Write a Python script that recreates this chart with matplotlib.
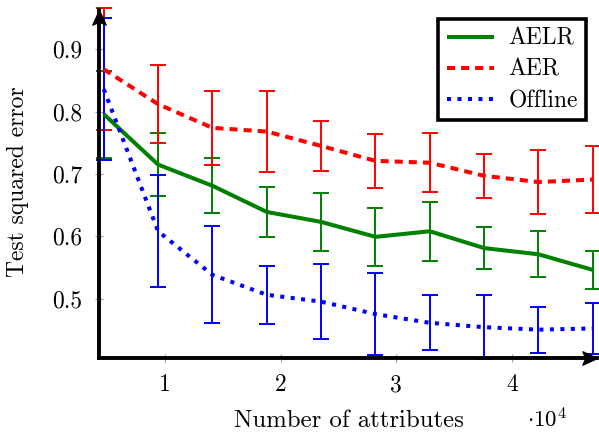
import matplotlib
matplotlib.use("Agg")
import matplotlib.pyplot as plt

# Data
attributes = [4700, 9400, 14100, 18800, 23500, 28200, 32900, 37600, 42300, 47000]

aelr_mean = [0.796, 0.715, 0.681, 0.639, 0.623, 0.599, 0.608, 0.581, 0.571, 0.546]
aelr_err = [0.070, 0.050, 0.044, 0.040, 0.047, 0.047, 0.047, 0.034, 0.037, 0.030]

aer_mean = [0.868, 0.812, 0.774, 0.768, 0.745, 0.721, 0.718, 0.697, 0.687, 0.691]
aer_err = [0.098, 0.063, 0.059, 0.065, 0.040, 0.043, 0.047, 0.035, 0.051, 0.054]

offline_mean = [0.836, 0.608, 0.538, 0.506, 0.495, 0.475, 0.461, 0.454, 0.450, 0.452]
offline_err = [0.114, 0.090, 0.078, 0.047, 0.060, 0.066, 0.044, 0.051, 0.037, 0.041]

x_ticks = [10000, 20000, 30000, 40000]
x_tick_labels = ["1", "2", "3", "4"]
y_ticks = [0.5, 0.6, 0.7, 0.8, 0.9]
y_tick_labels = ["0.5", "0.6", "0.7", "0.8", "0.9"]

plt.rcParams["font.family"] = ["cmr10", "DejaVu Serif"]
plt.rcParams["mathtext.fontset"] = "cm"
plt.rcParams["axes.formatter.use_mathtext"] = True


def create_visualization():
    fig = plt.figure(figsize=(5.99, 4.34), dpi=100)
    ax = fig.add_axes([0.1653, 0.1758, 0.8309, 0.8009])

    series = [
        ("AELR", aelr_mean, aelr_err, "#008000", dict(linestyle="-")),
        ("AER", aer_mean, aer_err, "#ff0000", dict(dashes=(2.0, 1.5))),
        ("Offline", offline_mean, offline_err, "#0000ff", dict(dashes=(1.0, 1.6))),
    ]

    for label, mean, err, color, style in series:
        ax.errorbar(attributes, mean, yerr=err, fmt="none", ecolor=color,
                    elinewidth=1.4, capsize=6, capthick=1.4, clip_on=False, zorder=2)
        ax.plot(attributes, mean, color=color, linewidth=2.9, label=label,
                solid_capstyle="butt", dash_capstyle="butt", zorder=3, **style)

    ax.set_xlim(4290, 47340)
    ax.set_ylim(0.405, 0.963)
    ax.set_xticks(x_ticks, x_tick_labels)
    ax.set_yticks(y_ticks, y_tick_labels)
    ax.tick_params(direction="inout", length=6, width=0.8, color="0.6",
                   labelsize=17, pad=9)

    for side in ["top", "right"]:
        ax.spines[side].set_visible(False)
    for side in ["left", "bottom"]:
        ax.spines[side].set_linewidth(2.8)
        ax.spines[side].set_color("black")
        ax.spines[side].set_capstyle("projecting")
        ax.spines[side].set_zorder(4)

    # stealth style arrow heads at the axis ends
    right_arrow = [(0, 0), (-1.75, 0.8), (-1.4, 0), (-1.75, -0.8), (0, 0)]
    up_arrow = [(0, 0), (0.8, -1.75), (0, -1.4), (-0.8, -1.75), (0, 0)]
    ax.plot([1], [0], marker=right_arrow, markersize=21, color="black",
            transform=ax.transAxes, clip_on=False, zorder=5)
    ax.plot([0], [1], marker=up_arrow, markersize=21, color="black",
            transform=ax.transAxes, clip_on=False, zorder=5)

    leg = ax.legend(loc="upper right", bbox_to_anchor=(0.978, 0.973),
                    borderaxespad=0, fontsize=17, handlelength=2.0,
                    labelspacing=0.38, handletextpad=0.6, borderpad=0.35,
                    fancybox=False, framealpha=1, edgecolor="black")
    leg.get_frame().set_linewidth(2.6)

    fig.text(349 / 599, 1 - 427 / 434, "Number of attributes", fontsize=17.8,
             ha="center", va="baseline")
    fig.text(17.6 / 599, 1 - 182 / 434, "Test squared error", fontsize=17,
             ha="center", va="center", rotation=90)
    fig.text(527 / 599, 1 - 428 / 434, r"$\cdot 10^{4}$", fontsize=16.5,
             ha="left", va="baseline")

    fig.savefig("out.png", dpi=100)


if __name__ == "__main__":
    create_visualization()
